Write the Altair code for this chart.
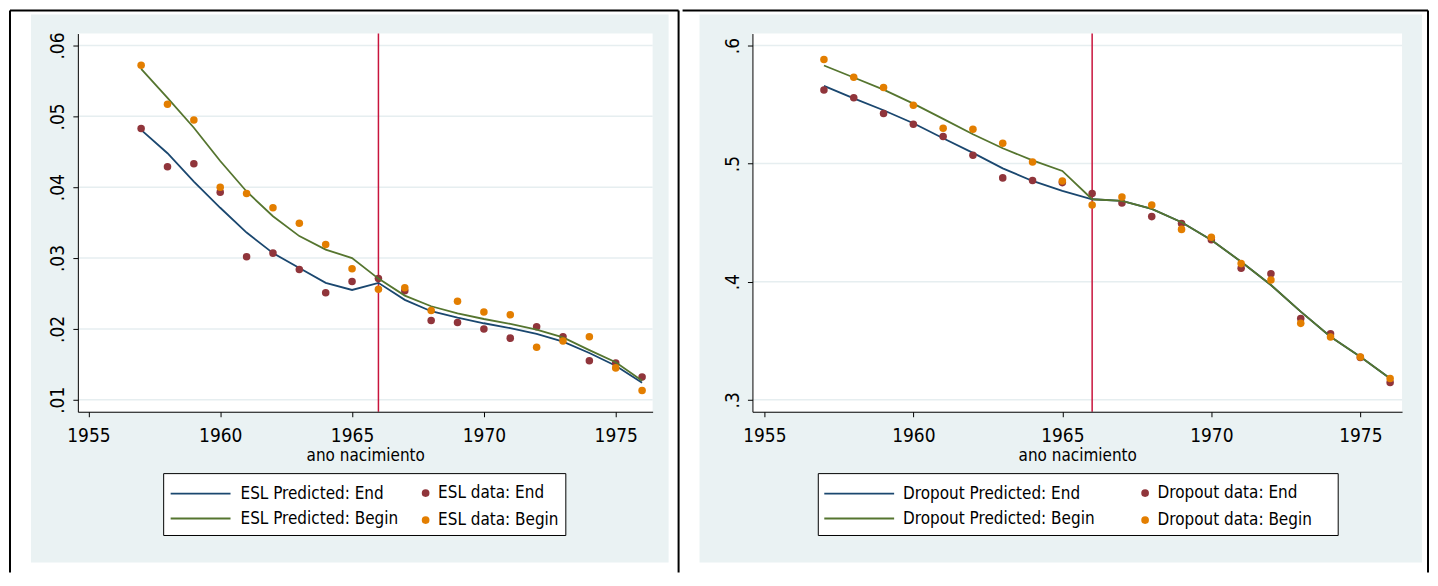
import altair as alt
import pandas as pd

# ---------------- data ----------------
years = list(range(1957, 1977))

esl_pred_end = [0.0481, 0.0448, 0.0408, 0.0371, 0.0336, 0.0307, 0.0286, 0.0265, 0.0255, 0.0265,
                0.0241, 0.0225, 0.0216, 0.0208, 0.0201, 0.0193, 0.0182, 0.0166, 0.0148, 0.0124]
esl_pred_begin = [0.0567, 0.0526, 0.0484, 0.0437, 0.0394, 0.0359, 0.0331, 0.0312, 0.0300, 0.0271,
                  0.0247, 0.0232, 0.0222, 0.0214, 0.0207, 0.0199, 0.0188, 0.0170, 0.0153, 0.0127]
esl_data_end = [0.0483, 0.0429, 0.0433, 0.0393, 0.0302, 0.0307, 0.0284, 0.0251, 0.0267, 0.0271,
                0.0254, 0.0212, 0.0209, 0.0200, 0.0187, 0.0203, 0.0189, 0.0155, 0.0152, 0.0132]
esl_data_begin = [0.0572, 0.0517, 0.0495, 0.0400, 0.0391, 0.0371, 0.0349, 0.0319, 0.0285, 0.0256,
                  0.0258, 0.0226, 0.0239, 0.0224, 0.0220, 0.0174, 0.0183, 0.0189, 0.0145, 0.0113]

do_pred_end = [0.5658, 0.5553, 0.5452, 0.5342, 0.5215, 0.5091, 0.4960, 0.4853, 0.4769, 0.4698,
               0.4684, 0.4616, 0.4503, 0.4353, 0.4169, 0.3972, 0.3746, 0.3534, 0.3364, 0.3181]
do_pred_begin = [0.5831, 0.5729, 0.5627, 0.5508, 0.5379, 0.5249, 0.5130, 0.5028, 0.4938, 0.4698,
                 0.4684, 0.4616, 0.4503, 0.4353, 0.4169, 0.3972, 0.3746, 0.3534, 0.3364, 0.3181]
do_data_end = [0.5624, 0.5557, 0.5424, 0.5333, 0.5229, 0.5071, 0.4879, 0.4856, 0.4839, 0.4746,
               0.4667, 0.4551, 0.4492, 0.4356, 0.4113, 0.4068, 0.3689, 0.3559, 0.3359, 0.3147]
do_data_begin = [0.5881, 0.5731, 0.5644, 0.5494, 0.5299, 0.5291, 0.5172, 0.5014, 0.4853, 0.4650,
                 0.4718, 0.4650, 0.4443, 0.4376, 0.4153, 0.4014, 0.3647, 0.3531, 0.3362, 0.3181]

esl_names = ["ESL Predicted: End", "ESL Predicted: Begin", "ESL data: End", "ESL data: Begin"]
do_names = ["Dropout Predicted: End", "Dropout Predicted: Begin", "Dropout data: End", "Dropout data: Begin"]

x_ticks = [1955, 1960, 1965, 1970, 1975]
esl_y_ticks = [0.01, 0.02, 0.03, 0.04, 0.05, 0.06]
do_y_ticks = [0.3, 0.4, 0.5, 0.6]
cutoff_year = [1966]
x_title = "ano nacimiento"

# ---------------- style ----------------
FONT = "DejaVu Sans Condensed, Liberation Sans, sans-serif"
NAVY, GREEN, MAROON, ORANGE = "#1a476f", "#55752f", "#90353b", "#e37e00"
BG, GRID, RED = "#eaf2f3", "#e6eef0", "#c8143c"
H = 379


def one_row():
    return pd.DataFrame({"k": [0]})


def panel(names, series, y_ticks, y_domain, y_fmt, W, deco, leg):
    pe, pb, de, db = names
    rows = []
    for name, vals in zip(names, series):
        for yr, v in zip(years, vals):
            rows.append({"year": yr, "value": v, "series": name})
    df = pd.DataFrame(rows)

    xaxis = alt.Axis(values=x_ticks, format="d", title=x_title, grid=False, zindex=1,
                     domainColor="black", domainWidth=1, tickColor="black", tickSize=5,
                     labelFont=FONT, labelFontSize=19, labelColor="black",
                     labelBaseline="alphabetic", labelPadding=25,
                     titleFont=FONT, titleFontSize=17, titleFontWeight="normal", titleColor="black",
                     titleY=49, titleBaseline="alphabetic")
    yaxis = alt.Axis(values=y_ticks, labelExpr="substring(format(datum.value, '%s'), 1)" % y_fmt,
                     title="", grid=False, zindex=1,
                     domainColor="black", domainWidth=1, tickColor="black", tickSize=5,
                     labelFont=FONT, labelFontSize=19, labelColor="black", labelAngle=270,
                     labelAlign="center", labelBaseline="alphabetic", labelPadding=9)
    xs = alt.Scale(domain=[1954.6, 1976.4], nice=False, zero=False)
    ys = alt.Scale(domain=y_domain, nice=False, zero=False)
    xenc = alt.X("year:Q", scale=xs, axis=xaxis)
    yenc = alt.Y("value:Q", scale=ys, axis=yaxis)

    gx0, gx1 = deco["gray_x"]
    gray = alt.Chart(one_row()).mark_rect(color=BG).encode(
        x=alt.value(gx0), x2=alt.value(gx1), y=alt.value(-19), y2=alt.value(H + 151))
    white = alt.Chart(one_row()).mark_rect(color="white").encode(
        x=alt.value(0), x2=alt.value(W), y=alt.value(0), y2=alt.value(H))
    bx0, bx1 = deco["top_x"]
    top = alt.Chart(one_row()).mark_rule(color="black", strokeWidth=2).encode(
        x=alt.value(bx0), x2=alt.value(bx1), y=alt.value(-23))
    verts = [alt.Chart(one_row()).mark_rule(color="black", strokeWidth=2).encode(
        x=alt.value(vx), y=alt.value(-23), y2=alt.value(540)) for vx in deco["vert_x"]]
    lx0, lx1 = deco["legbox_x"]
    legbox = alt.Chart(one_row()).mark_rect(fill="white", stroke="black", strokeWidth=1).encode(
        x=alt.value(lx0), x2=alt.value(lx1), y=alt.value(441), y2=alt.value(503))

    grid = alt.Chart(pd.DataFrame({"value": y_ticks})).mark_rule(
        color=GRID, strokeWidth=1.5).encode(y=yenc)
    vline = alt.Chart(pd.DataFrame({"year": cutoff_year})).mark_rule(
        color=RED, strokeWidth=1.5).encode(x=xenc)

    line_leg = alt.Legend(title=None, orient="none", legendX=leg["line_x"], legendY=450,
                          direction="vertical", padding=0, symbolType=leg["path"], symbolSize=400,
                          symbolStrokeWidth=1.8, labelOffset=leg["line_off"], rowPadding=6,
                          labelFont=FONT, labelFontSize=17, labelColor="black", labelLimit=400)
    pt_leg = alt.Legend(title=None, orient="none", legendX=leg["pt_x"], legendY=452,
                        direction="vertical", padding=0, symbolType="circle", symbolSize=60,
                        symbolStrokeWidth=0, symbolOpacity=1, labelOffset=4, rowPadding=9,
                        labelFont=FONT, labelFontSize=17, labelColor="black", labelLimit=400)
    stroke_enc = alt.Stroke("series:N", scale=alt.Scale(domain=[pe, pb], range=[NAVY, GREEN]), legend=line_leg)
    fill_enc = alt.Fill("series:N", scale=alt.Scale(domain=[de, db], range=[MAROON, ORANGE]), legend=pt_leg)

    def line(name):
        return alt.Chart(df).transform_filter(alt.datum.series == name).mark_line(
            strokeWidth=1.8).encode(x=xenc, y=yenc, stroke=stroke_enc)

    def pts(name):
        return alt.Chart(df).transform_filter(alt.datum.series == name).mark_circle(
            size=57, opacity=1).encode(x=xenc, y=yenc, fill=fill_enc)

    layers = [gray, white, top] + verts + [legbox, grid, vline,
                                             line(pe), pts(de), line(pb), pts(db)]
    return alt.layer(*layers).properties(width=W, height=H)


left = panel(esl_names, [esl_pred_end, esl_pred_begin, esl_data_end, esl_data_begin],
             esl_y_ticks, [0.00831, 0.06169], ".2f", 576,
             {"gray_x": (-47, 592), "top_x": (-68, 602), "vert_x": [-68, 602], "legbox_x": (86, 489)},
             {"line_x": 112, "line_off": 29, "pt_x": 340, "path": "M-3,0H3"})
right = panel(do_names, [do_pred_end, do_pred_begin, do_data_end, do_data_begin],
              do_y_ticks, [0.28986, 0.61014], ".1f", 651,
              {"gray_x": (-53, 671), "top_x": (-70, 677), "vert_x": [677], "legbox_x": (66, 587)},
              {"line_x": 96, "line_off": 33, "pt_x": 385, "path": "M-3.5,0H3.5"})

chart = alt.hconcat(left, right, spacing=0).resolve_scale(
    stroke="independent", fill="independent", x="independent", y="independent"
).configure(background="white", padding=0, font=FONT).configure_view(stroke="transparent")

chart.save("out.html", embed_options={"renderer": "svg", "actions": False})
